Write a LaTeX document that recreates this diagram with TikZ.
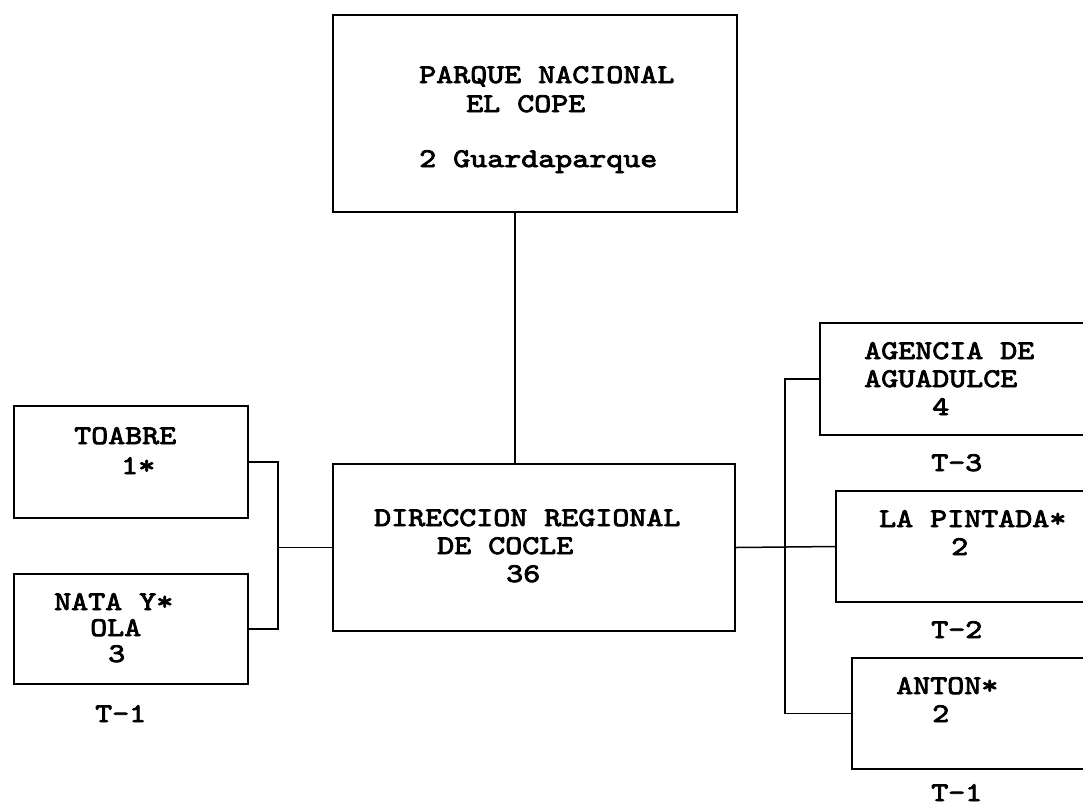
\documentclass[tikz,border=0pt]{standalone}
\usepackage{fontspec}
\usetikzlibrary{calc}
\newfontfamily\typefont{lmmono10-regular.otf}[FakeStretch=1.2,FakeBold=3]
\tikzset{
  unit/.style={draw, line width=2pt, inner sep=0pt, anchor=north west},
  txt/.style={font=\typefont\fontsize{27}{28}\selectfont, align=left, inner sep=0pt, anchor=north west},
  link/.style={line width=1.5pt}
}
\begin{document}
\begin{tikzpicture}[x=1pt,y=-1pt]
	\useasboundingbox (0,0) rectangle (1083,807);
	\clip (0,0) rectangle (1083,807);
	
	% offices
	\node[unit, minimum width=404pt, minimum height=197pt] (cope) at (332,14) {};
	\node[unit, minimum width=402pt, minimum height=167pt] (dir) at (332,463) {};
	\node[unit, minimum width=234pt, minimum height=112pt] (toabre) at (13,405) {};
	\node[unit, minimum width=234pt, minimum height=110pt] (nata) at (13,573) {};
	\node[unit, minimum width=281pt, minimum height=112pt] (agencia) at (819,322) {};
	\node[unit, minimum width=265pt, minimum height=111pt] (pintada) at (835,490) {};
	\node[unit, minimum width=249pt, minimum height=111pt] (anton) at (851,657) {};
	
	\node[txt] (cope-t) at (419,66) {PARQUE NACIONAL\\[1pt]\hspace*{47pt}EL COPE\\[27pt]2 Guardaparque};
	\node[txt] (dir-t) at (374,509) {DIRECCION REGIONAL\\\hspace*{63pt}DE COCLE\\\hspace*{132pt}36};
	\node[txt] (toabre-t) at (74,427) {TOABRE\\[2pt]\hspace*{47pt}1*};
	\node[txt] (nata-t) at (54,593) {NATA Y*\\[-2pt]\hspace*{36pt}OLA\\[-2pt]\hspace*{54pt}3};
	\node[txt] (agencia-t) at (864,342) {AGENCIA DE\\AGUADULCE\\\hspace*{68pt}4};
	\node[txt] (pintada-t) at (879,510) {LA PINTADA*\\\hspace*{72pt}2};
	\node[txt] (anton-t) at (896,677) {ANTON*\\\hspace*{36pt}2};
	
	% type codes
	\node[txt] (nata-c) at (95,705) {T-1};
	\node[txt] (agencia-c) at (931,454) {T-3};
	\node[txt] (pintada-c) at (931,621) {T-2};
	\node[txt] (anton-c) at (931,784) {T-1};
	
	% lines
	\coordinate (trunk) at (515,0);
	\coordinate (lbar) at ($(dir.west)+(-54,0)$);
	\coordinate (rbar) at ($(dir.east)+(49,0)$);
	\draw[link] (trunk |- cope.south) -- (trunk |- dir.north);
	\draw[link] (toabre.east) -| (lbar) |- (nata.east);
	\draw[link] (lbar) -- (dir.west);
	\draw[link] (dir.east) -- (pintada.west);
	\draw[link] (agencia.west) -| (rbar) |- (anton.west);
\end{tikzpicture}
\end{document}
